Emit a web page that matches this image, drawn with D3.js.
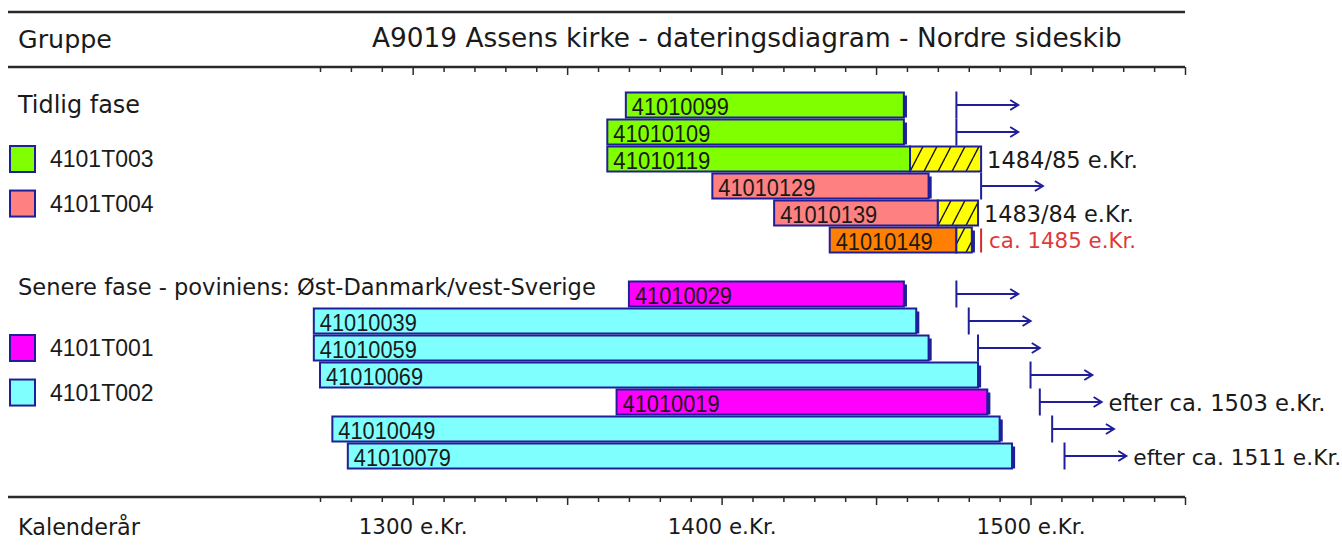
<!DOCTYPE html>
<html>
<head>
<meta charset="utf-8">
<script src="https://cdn.jsdelivr.net/npm/d3@7"></script>
<style>
    body { margin: 0; background: #fff; }
    svg { display: block; }
    .hand { font-family: "DejaVu Sans", sans-serif; fill: #1a1a1a; }
    .lab { font-family: "Liberation Sans", Arial, sans-serif; fill: #1a1a1a; }
</style>
</head>
<body>
<div id="container"></div>
<script>

// samples, top to bottom (row 6 is the gap between the two groups)
const sampleIds = ['41010099', '41010109', '41010119', '41010129', '41010139', '41010149',
    '41010029', '41010039', '41010059', '41010069', '41010019', '41010049', '41010079'];
const sampleRow = [0, 1, 2, 3, 4, 5, 7, 8, 9, 10, 11, 12, 13];
const sampleGroup = ['4101T003', '4101T003', '4101T003', '4101T004', '4101T004', 'enkelt',
    '4101T001', '4101T002', '4101T002', '4101T002', '4101T001', '4101T002', '4101T002'];
const firstYear = [1369, 1363, 1363, 1397, 1417, 1435, 1370, 1268, 1268, 1270, 1366, 1274, 1279];
const heartEnd = [1459, 1459, 1461, 1467, 1470, 1476, 1459, 1463, 1467, 1483, 1486, 1490, 1494];
const lastRing = [1459, 1459, 1484, 1467, 1483, 1481, 1459, 1463, 1467, 1483, 1486, 1490, 1494];
const endMark = [true, true, false, true, false, true, true, true, true, true, true, true, true];
const fellingAfter = [1476, 1476, null, 1484, null, null, 1476, 1480, 1483, 1500, 1503, 1507, 1511];
const redMark = [null, null, null, null, null, 1484, null, null, null, null, null, null, null];
const notes = ['', '', '1484/85 e.Kr.', '', '1483/84 e.Kr.', 'ca. 1485 e.Kr.',
    '', '', '', '', 'efter ca. 1503 e.Kr.', '', 'efter ca. 1511 e.Kr.'];

// legend
const groupNames = ['Tidlig fase', 'Senere fase - poviniens: Øst-Danmark/vest-Sverige'];
const groupRow = [0, 6.75];
const legendNames = ['4101T003', '4101T004', '4101T001', '4101T002'];
const legendRow = [2, 3.65, 9, 10.65];

const tickYears = d3.range(1270, 1551, 10);

const width = 1342;
const height = 549;
const STROKE = '#1f1f9a';

const x = d3.scaleLinear().domain([1270, 1550]).range([320, 1185]);
const rowY = d3.scaleLinear().domain([0, 13]).range([105, 456]);
const BAR_H = 25;

const color = d3.scaleOrdinal(['4101T003', '4101T004', 'enkelt', '4101T001', '4101T002'],
    ['#80ff00', '#ff8080', '#ff8000', '#ff00ff', '#80ffff']);

const svg = d3.select('#container')
    .append('svg')
    .attr('width', width)
    .attr('height', height);

// yellow sapwood hatch, aligned to the row grid
svg.append('defs').append('pattern')
    .attr('id', 'hatch')
    .attr('patternUnits', 'userSpaceOnUse')
    .attr('x', 0).attr('y', rowY(0) - BAR_H / 2)
    .attr('width', 14).attr('height', 27)
    .call(p => {
        p.append('rect').attr('width', 14).attr('height', 27).attr('fill', '#ffff00');
        p.append('path')
            .attr('d', 'M-21,27L-7,0M-7,27L7,0M7,27L21,0')
            .attr('stroke', '#111').attr('stroke-width', 1.4);
    });

// shrink/grow a text's font so it spans the given width
const fit = (sel, w) => sel.each(function () {
    const fs = parseFloat(getComputedStyle(this).fontSize);
    this.style.fontSize = (fs * w / this.getComputedTextLength()) + 'px';
});

// frame lines
[12, 67, 497].forEach(y => {
    svg.append('line')
        .attr('x1', 8).attr('x2', 1185).attr('y1', y).attr('y2', y)
        .attr('stroke', '#2a2a2a').attr('stroke-width', 2.5);
});

const axis = (y, labels) => {
    const g = svg.append('g')
        .attr('transform', `translate(0,${y})`)
        .call(d3.axisBottom(x)
            .tickValues(tickYears)
            .tickSizeOuter(0)
            .tickFormat(d => labels && d % 100 === 0 ? `${d} e.Kr.` : ''));
    g.select('.domain').remove();
    g.selectAll('.tick line')
        .attr('y2', d => d % 50 === 0 ? 8 : 5)
        .attr('stroke', '#2a2a2a')
        .attr('stroke-width', 1.5);
    g.selectAll('.tick text')
        .attr('class', 'hand')
        .attr('y', 30)
        .attr('dy', '0.35em')
        .attr('fill', '#1a1a1a')
        .style('font-size', '20px')
        .call(t => t.filter(d => d % 100 === 0).call(fit, 109));
};
axis(67, false);
axis(497, true);

// header
svg.append('text').attr('class', 'hand').attr('x', 18).attr('y', 39).attr('dy', '0.35em')
    .style('font-size', '22px').text('Gruppe').call(fit, 94);
svg.append('text').attr('class', 'hand').attr('x', 372).attr('y', 38).attr('dy', '0.35em')
    .style('font-size', '24px').text('A9019 Assens kirke - dateringsdiagram - Nordre sideskib').call(fit, 750);
svg.append('text').attr('class', 'hand').attr('x', 18).attr('y', 527).attr('dy', '0.35em')
    .style('font-size', '22px').text('Kalenderår').call(fit, 122);

// group titles
const groupWidths = [122, 578];
svg.selectAll('.group')
    .data(groupNames)
    .join('text')
    .attr('class', 'hand')
    .attr('x', 18)
    .attr('y', (d, i) => rowY(groupRow[i]))
    .attr('dy', '0.35em')
    .style('font-size', '22px')
    .text(d => d)
    .each(function (d, i) { d3.select(this).call(fit, groupWidths[i]); });

// legend
const legendItem = svg.selectAll('.legend')
    .data(legendNames)
    .join('g')
    .attr('transform', (d, i) => `translate(10,${rowY(legendRow[i])})`);
legendItem.append('rect')
    .attr('y', -13).attr('width', 25).attr('height', 26)
    .attr('fill', d => color(d))
    .attr('stroke', STROKE).attr('stroke-width', 2);
legendItem.append('text')
    .attr('class', 'lab')
    .attr('x', 40).attr('dy', '0.36em')
    .style('font-size', '23px')
    .text(d => d);

// bars
const rows = sampleIds.map((id, i) => ({
    id, i, row: sampleRow[i], group: sampleGroup[i],
    start: firstYear[i], heart: heartEnd[i], last: lastRing[i],
    mark: endMark[i], after: fellingAfter[i], red: redMark[i], note: notes[i]
}));

const bar = svg.selectAll('.bar')
    .data(rows)
    .join('g')
    .attr('transform', d => `translate(0,${rowY(d.row) - BAR_H / 2})`);

bar.append('rect')
    .attr('x', d => x(d.start))
    .attr('width', d => x(d.heart) - x(d.start))
    .attr('height', BAR_H)
    .attr('fill', d => color(d.group))
    .attr('stroke', STROKE).attr('stroke-width', 2);

bar.filter(d => d.last > d.heart).append('rect')
    .attr('x', d => x(d.heart))
    .attr('width', d => x(d.last) - x(d.heart))
    .attr('height', BAR_H)
    .attr('fill', 'url(#hatch)')
    .attr('stroke', STROKE).attr('stroke-width', 2);

bar.filter(d => d.mark).append('rect')
    .attr('x', d => x(d.last))
    .attr('y', 3)
    .attr('width', d => x(d.last + 1) - x(d.last))
    .attr('height', BAR_H - 3)
    .attr('fill', STROKE);

bar.append('text')
    .attr('class', 'lab')
    .attr('x', d => x(d.start) + 6)
    .attr('y', BAR_H - 3)
    .attr('textLength', 97)
    .attr('lengthAdjust', 'spacingAndGlyphs')
    .style('font-size', '24px')
    .text(d => d.id);

// "felling after" arrows
const arrow = bar.filter(d => d.after != null);
arrow.append('path')
    .attr('d', d => {
        const x0 = x(d.after), x1 = x(d.after + 20), m = BAR_H / 2;
        return `M${x0},-1V${BAR_H + 1}M${x0},${m}H${x1}M${x1 - 8},${m - 5}L${x1},${m}L${x1 - 8},${m + 5}`;
    })
    .attr('fill', 'none')
    .attr('stroke', STROKE)
    .attr('stroke-width', 2);

// red estimate line
bar.filter(d => d.red != null).append('line')
    .attr('x1', d => x(d.red)).attr('x2', d => x(d.red))
    .attr('y1', 1).attr('y2', BAR_H)
    .attr('stroke', '#d42a2a').attr('stroke-width', 2);

// notes to the right
const noteWidths = { '1484/85 e.Kr.': 151, '1483/84 e.Kr.': 150, 'ca. 1485 e.Kr.': 147,
    'efter ca. 1503 e.Kr.': 217, 'efter ca. 1511 e.Kr.': 208 };
bar.filter(d => d.note).append('text')
    .attr('class', 'hand')
    .attr('x', d => d.after != null ? x(d.after + 20) + 7 : d.red != null ? x(d.red) + 8 : x(d.last) + 6)
    .attr('y', BAR_H / 2 + 1)
    .attr('dy', '0.35em')
    .style('fill', d => d.red != null ? '#e0393b' : null)
    .style('font-size', '20px')
    .text(d => d.note)
    .each(function (d) { d3.select(this).call(fit, noteWidths[d.note]); });

</script>
</body>
</html>
